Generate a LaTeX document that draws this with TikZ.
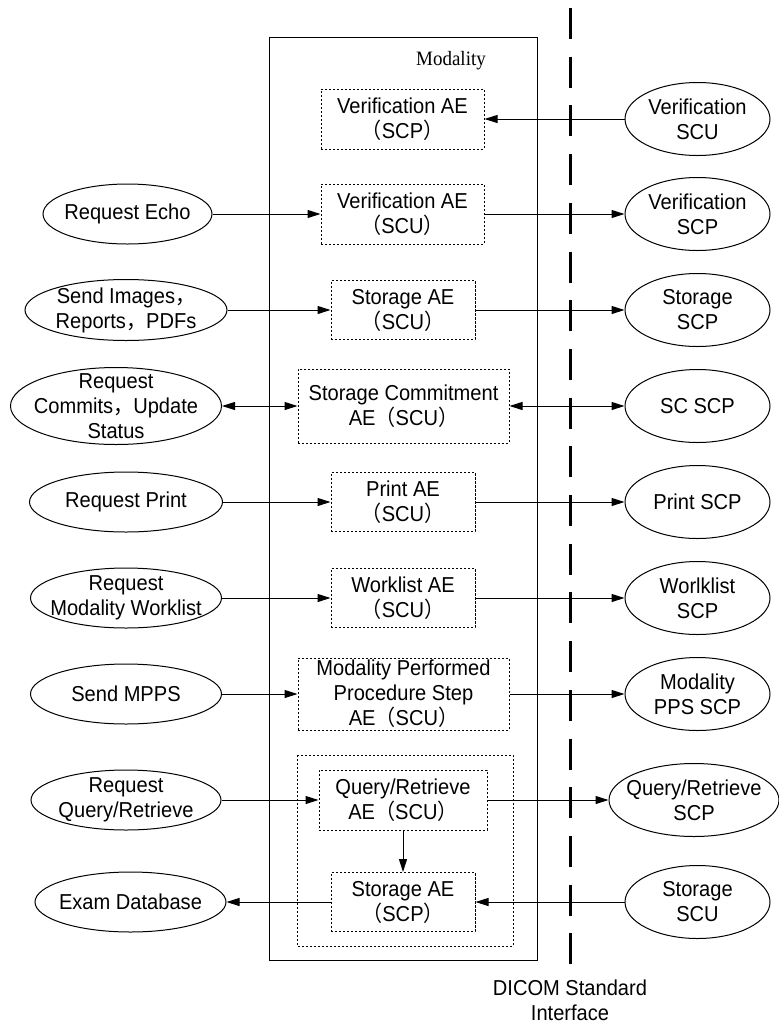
\documentclass[tikz,border=0pt]{standalone}
\usepackage{fontspec}
\setmainfont{Liberation Sans}[FakeStretch=0.93]
\newfontfamily\modfont{Liberation Serif}[FakeStretch=0.93]
\newfontfamily\cjkfont{Noto Sans CJK SC}[FakeStretch=0.93]
\newcommand{\zlp}{{\cjkfont （}}
\newcommand{\zrp}{{\cjkfont ）}}
\newcommand{\zcomma}{{\cjkfont ，}}
\usetikzlibrary{arrows.meta,shapes.geometric}
\tikzset{
 ae/.style={draw,dash pattern=on 1.2pt off 0.8pt,inner sep=0pt,align=center,minimum width=72pt,minimum height=29.5pt},
 ell/.style={draw,ellipse,inner sep=0pt,minimum width=72.5pt,minimum height=36.5pt},
 lbl/.style={align=center,inner sep=0pt},
}
\begin{document}
\begin{tikzpicture}[x=0.5pt,y=-0.5pt,line width=0.5pt,font=\fontsize{10.8}{12.5}\selectfont,>={Triangle[length=6.5pt,width=4pt]}]
\useasboundingbox(0,0)rectangle(779,1024);

%modality
\draw[line width=0.5pt](269,37)rectangle(537,960);
\node[font=\modfont\fontsize{10.2}{12}\selectfont](mod)at(451,61){Modality};

%interface line
\draw[line width=1.4pt,dash pattern=on 15.5pt off 8.85pt](570.5,8)--(570.5,964);
\node[align=center](dicom)at(570,1000){DICOM Standard\\Interface};

%query/retrieve group
\draw[dash pattern=on 1.2pt off 0.8pt](297,755)rectangle(513,946);

%AE boxes
\node[ae,minimum width=81.5pt,minimum height=30pt](vscp)at(402.5,119){Verification AE\\\zlp SCP\zrp};
\node[ae,minimum width=81.5pt,minimum height=30pt](vscu)at(402.5,214){Verification AE\\\zlp SCU\zrp};
\node[ae](stscu)at(403,310){Storage AE\\\zlp SCU\zrp};
\node[ae,minimum width=105.5pt,minimum height=37pt](sc)at(403.5,406){Storage Commitment\\AE\zlp SCU\zrp};
\node[ae](prt)at(403,502){Print AE\\\zlp SCU\zrp};
\node[ae](wl)at(403,598){Worklist AE\\\zlp SCU\zrp};
\node[ae,minimum width=105.5pt,minimum height=36pt](mpps)at(403.5,694){Modality Performed\\Procedure Step\\AE\zlp SCU\zrp};
\node[ae,minimum width=84pt,minimum height=30pt](qr)at(403,800){Query/Retrieve\\AE\zlp SCU\zrp};
\node[ae](stscp)at(403,902){Storage AE\\\zlp SCP\zrp};

%left side
\node[ell,minimum width=84.5pt,minimum height=30pt,label={[lbl]center:Request Echo}](echo)at(127.5,214){};
\node[ell,minimum width=101pt,minimum height=30.5pt,label={[lbl]center:Send Images\zcomma\\Reports\zcomma PDFs}](send)at(126,310){};
\node[ell,minimum width=105.5pt,minimum height=38.5pt,label={[lbl]center:Request\\Commits\zcomma Update\\Status}](commit)at(116,406){};
\node[ell,minimum width=96.5pt,minimum height=30pt,label={[lbl]center:Request Print}](rprint)at(126,502){};
\node[ell,minimum width=95.5pt,minimum height=30pt,label={[lbl]center:Request\\Modality Worklist}](rmwl)at(126,598){};
\node[ell,minimum width=95.5pt,minimum height=30pt,label={[lbl]center:Send MPPS}](smpps)at(126,694){};
\node[ell,minimum width=95pt,minimum height=30pt,label={[lbl]center:Request\\Query/Retrieve}](rqr)at(126,800){};
\node[ell,minimum width=95.5pt,minimum height=30pt,label={[lbl]center:Exam Database}](exam)at(130.5,902){};

%right side
\node[ell,label={[lbl]center:Verification\\SCU}](vscuR)at(697.5,119){};
\node[ell,label={[lbl]center:Verification\\SCP}](vscpR)at(697.5,214){};
\node[ell,label={[lbl]center:Storage\\SCP}](stscpR)at(697.5,310){};
\node[ell,label={[lbl]center:SC SCP}](scR)at(697.5,406){};
\node[ell,label={[lbl]center:Print SCP}](prtR)at(697.5,502){};
\node[ell,label={[lbl]center:Worlklist\\SCP}](wlR)at(697.5,598){};
\node[ell,label={[lbl]center:Modality\\PPS SCP}](ppsR)at(697.5,694){};
\node[ell,minimum width=85pt,label={[lbl]center:Query/Retrieve\\SCP}](qrR)at(694,800){};
\node[ell,label={[lbl]center:Storage\\SCU}](stscuR)at(697.5,902){};

%connections
\draw[->](vscuR)--(vscp);
\draw[->](echo)--(vscu);
\draw[->](vscu)--(vscpR);
\draw[->](send)--(stscu);
\draw[->](stscu)--(stscpR);
\draw[<->](commit)--(sc);
\draw[<->](sc)--(scR);
\draw[->](rprint)--(prt);
\draw[->](prt)--(prtR);
\draw[->](rmwl)--(wl);
\draw[->](wl)--(wlR);
\draw[->](smpps)--(mpps);
\draw[->](mpps)--(ppsR);
\draw[->](rqr)--(qr);
\draw[->](qr)--(qrR);
\draw[->](qr)--(stscp);
\draw[->](stscuR)--(stscp);
\draw[->](stscp)--(exam);

\end{tikzpicture}
\end{document}
